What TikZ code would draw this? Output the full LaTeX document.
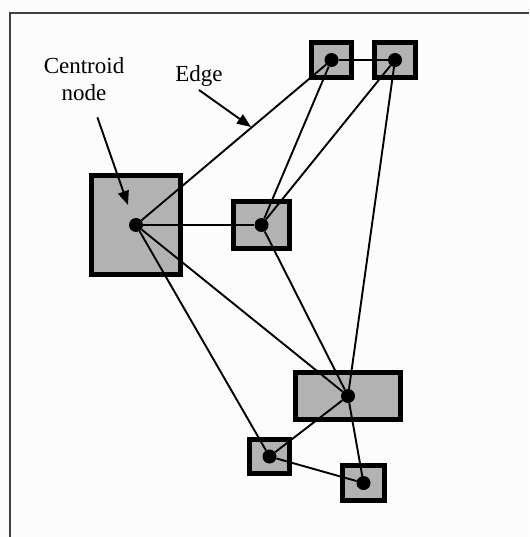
\documentclass[tikz,border=0pt]{standalone}
\usepackage{fontspec}
\setmainfont{Liberation Serif}
\usetikzlibrary{arrows.meta}

\begin{document}
\begin{tikzpicture}[x=1pt, y=-1pt,
  box/.style={draw, line width=5pt, fill=black!30, inner sep=0pt},
  dot/.style={circle, fill=black, inner sep=0pt, minimum size=14pt},
  link/.style={line width=1.9pt},
  pointer/.style={line width=1.9pt, -{Triangle[length=14pt,width=11pt]}},
  lbl/.style={font=\fontsize{23}{27}\selectfont, align=center}]
 \useasboundingbox[fill=black!1] (0,0) rectangle (529,537);
 \draw[line width=2.2pt, black!75] (10,537) -- (10,13) -- (529,13);
 % boxes
 \node[box, minimum width=40pt,  minimum height=35pt]  (ba) at (331.5,60) {};
 \node[box, minimum width=41pt,  minimum height=35pt]  (bb) at (395,60) {};
 \node[box, minimum width=89pt,  minimum height=99pt]  (bc) at (136,225) {};
 \node[box, minimum width=56pt,  minimum height=47pt]  (bd) at (261.5,225) {};
 \node[box, minimum width=105pt, minimum height=47pt]  (be) at (348,396) {};
 \node[box, minimum width=40pt,  minimum height=34pt]  (bf) at (269.5,456.5) {};
 \node[box, minimum width=42pt,  minimum height=35pt]  (bg) at (363.5,483) {};
 % centres
 \foreach \n in {a,b,c,d,e,f,g}
  \node[dot] (\n) at (b\n.center) {};
 \path[link]
  (c) edge (a) edge (d) edge (e) edge (f)
  (d) edge (a) edge (b) edge (e)
  (a) edge (b)
  (b) edge (e)
  (e) edge (f) edge (g)
  (f) edge (g);
 % labels
 \node[lbl] (centroid) at (84,79) {Centroid\\node};
 \node[lbl] (edge) at (199,76) {Edge};
 \coordinate (centroidtip) at (128,205);
 \coordinate (edgetip) at (251,127);
 \draw[pointer, shorten <=14pt] (centroid) -- (centroidtip);
 \draw[pointer] (edge.south) -- (edgetip);
\end{tikzpicture}
\end{document}
